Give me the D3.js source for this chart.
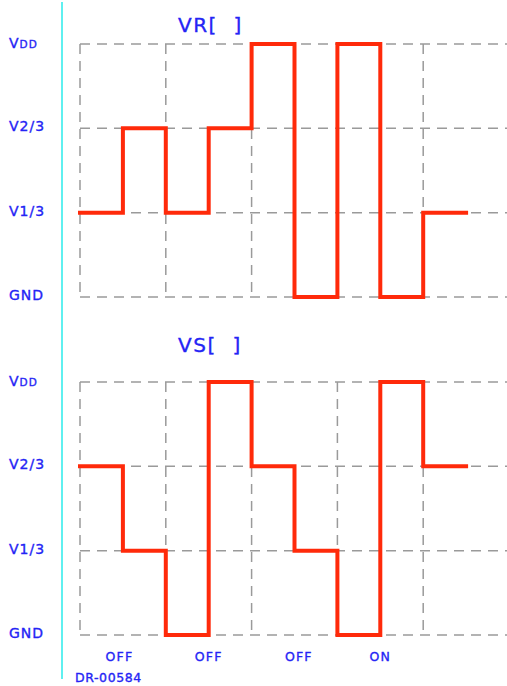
<!DOCTYPE html>
<html><head><meta charset="utf-8">
<script src="https://cdn.jsdelivr.net/npm/d3@7"></script>
<style>body{margin:0;background:#fff}svg{display:block}text{font-family:"DejaVu Sans",sans-serif;fill:#2424f5;stroke:#2424f5;stroke-width:0.35px}</style>
</head><body>
<script>
// Data
const levelLabels = ["GND", "V1/3", "V2/3", "VDD"];
const levels = [0, 1/3, 2/3, 1];
const vrValues = [1/3, 2/3, 1/3, 2/3, 1, 0, 1, 0, 1/3];
const vsValues = [2/3, 1/3, 0, 1, 2/3, 1/3, 0, 1, 2/3];
const gridCols = [0, 2, 4, 6, 8];
const stateLabels = ["OFF", "OFF", "OFF", "ON"];
const statePos = [0.92, 3, 5.1, 7];
const titles = ["VR[  ]", "VS[  ]"];
const drawingId = "DR-00584";

const W = 507, H = 686;
const svg = d3.select("body").append("svg").attr("width", W).attr("height", H);

const x = d3.scaleLinear().domain([0, 10]).range([80, 509]);

svg.append("line").attr("x1", 62).attr("x2", 62).attr("y1", 2).attr("y2", 679)
  .attr("stroke", "#5ff0f0").attr("stroke-width", 2);

const panels = [
  {title: titles[0], values: vrValues, range: [297, 44], titleY: 32},
  {title: titles[1], values: vsValues, range: [635, 382], titleY: 352}
];

panels.forEach(p => {
  const y = d3.scaleLinear().domain([0, 1]).range(p.range);
  const g = svg.append("g");
  g.selectAll(".h").data(levels).join("line")
    .attr("x1", x(0)).attr("x2", x(10))
    .attr("y1", d => y(d)).attr("y2", d => y(d))
    .attr("stroke", "#9a9a9a").attr("stroke-width", 1.5).attr("stroke-dasharray", "10,7");
  g.selectAll(".v").data(gridCols).join("line")
    .attr("x1", d => x(d)).attr("x2", d => x(d))
    .attr("y1", y(1)).attr("y2", y(0))
    .attr("stroke", "#9a9a9a").attr("stroke-width", 1.5).attr("stroke-dasharray", "10,7");
  levels.forEach((lv, i) => {
    const t = g.append("text").attr("x", 9).attr("y", y(lv) + 3).attr("font-size", 14).attr("letter-spacing", 1);
    if (levelLabels[i] === "VDD") {
      t.attr("y", y(lv) + 4);
      t.append("tspan").text("V");
      t.append("tspan").attr("font-size", 10.5).text("DD");
    } else t.text(levelLabels[i]);
  });
  g.append("text").attr("x", 178).attr("y", p.titleY).attr("font-size", 20)
    .attr("letter-spacing", 1.5).style("white-space", "pre").text(p.title);
  const pts = [];
  p.values.forEach((v, i) => { pts.push([i, v]); pts.push([i + 1, v]); });
  const line = d3.line().x(d => x(d[0])).y(d => y(d[1]));
  g.append("path").attr("d", line(pts)).attr("fill", "none")
    .attr("stroke", "#ff2a0a").attr("stroke-width", 4).attr("stroke-linejoin", "miter").attr("stroke-linecap", "square");
});

svg.selectAll(".st").data(stateLabels).join("text")
  .attr("x", (d, i) => x(statePos[i])).attr("y", 661).attr("text-anchor", "middle")
  .attr("font-size", 12.5).attr("letter-spacing", 1.2).text(d => d);

svg.append("text").attr("x", 75).attr("y", 682).attr("font-size", 12.5).attr("letter-spacing", 0.6).text(drawingId);
</script>
</body></html>
